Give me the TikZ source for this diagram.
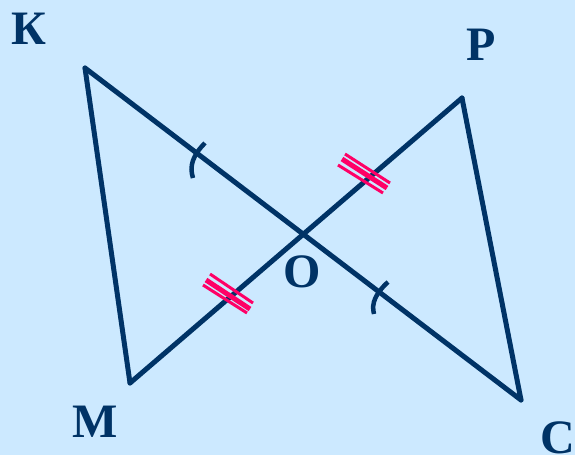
\documentclass[tikz,border=0pt]{standalone}
\usepackage{fontspec}
\setmainfont{Liberation Serif}
\begin{document}
\begin{tikzpicture}[x=1pt,y=-1pt,
  seg/.style={draw=navy,line width=5pt,line cap=round,line join=round},
  arcmark/.style={draw=navy,line width=4.5pt},
  tick/.style={draw=tickred,line width=3pt},
  tickmid/.style={draw=tickred,line width=5pt},
  lbl/.style={text=navy,font=\fontsize{48}{48}\selectfont\bfseries,inner sep=0pt}]
\definecolor{navy}{HTML}{003366}
\definecolor{tickred}{HTML}{FF0066}
\definecolor{bg}{HTML}{CCE9FF}
\fill[bg] (0,0) rectangle (575,455);
\useasboundingbox (0,0) rectangle (575,455);
\coordinate (K) at (85,68);
\coordinate (M) at (130,383);
\coordinate (O) at (303,234);
\coordinate (P) at (462,98);
\coordinate (C) at (521,400);
\draw[seg] (K) -- (M);
\draw[seg] (K) -- (C);
\draw[seg] (M) -- (P);
\draw[seg] (P) -- (C);
% arc marks
\draw[arcmark] (205,143) .. controls (193,155) and (189,166) .. (193,178);
\draw[arcmark] (388,282) .. controls (376,293) and (371,303) .. (374,314);
% triple ticks upper
\draw[tick] (345,154) -- (390,183);
\draw[tickmid] (342,159) -- (387,188);
\draw[tick] (338,165) -- (383,193);
% triple ticks lower
\draw[tick] (210,274) -- (253,303);
\draw[tickmid] (206,280) -- (250,309);
\draw[tick] (203,285) -- (247,313);
\node[lbl] (lK) at (29,29) {К};
\node[lbl] (lP) at (481,45) {P};
\node[lbl] (lM) at (95,422) {M};
\node[lbl] (lO) at (302,272) {O};
\node[lbl] (lC) at (558,438) {C};
\end{tikzpicture}
\end{document}
